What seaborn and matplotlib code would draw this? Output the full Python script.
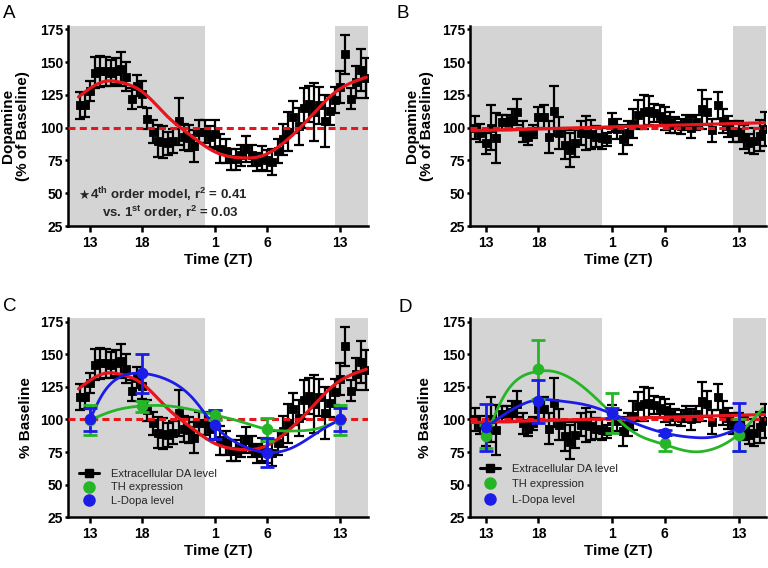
import numpy as np
import pandas as pd
import matplotlib
matplotlib.use("Agg")
import matplotlib.pyplot as plt
import seaborn as sns
from matplotlib.lines import Line2D

# ---------------- data ----------------
# time in hours after ZT13 of the first recording day (tick labels give ZT)
time_h = [-1.0, -0.5, 0.0, 0.5, 1.0, 1.5, 2.0, 2.5, 3.0, 3.5, 4.0, 4.5, 5.0, 5.5,
          6.0, 6.5, 7.0, 7.5, 8.0, 8.5, 9.0, 9.5, 10.0, 10.5, 11.0, 11.5, 12.0, 12.5,
          13.0, 13.5, 14.0, 14.5, 15.0, 15.5, 16.0, 16.5, 17.0, 17.5, 18.0, 18.5, 19.0,
          19.5, 20.0, 20.5, 21.0, 21.5, 22.0, 22.5, 23.0, 23.5, 24.0, 24.5, 25.0, 25.5,
          26.0, 26.5]

da_ctrl = [117, 117, 128, 142, 143, 143, 142, 143, 145, 139, 122, 132, 126, 107,
           97, 90, 89, 88, 90, 105, 93, 92, 86, 97, 97, 93, 95, 84,
           82, 76, 76, 79, 84, 79, 74, 77, 75, 74, 82, 91, 97,
           108, 101, 115, 118, 112, 117, 105, 113, 121, 131, 156, 122, 135,
           144, 138]
da_ctrl_err = [10, 9, 8, 12, 12, 11, 10, 10, 13, 11, 8, 8, 10, 8,
               9, 12, 12, 9, 9, 18, 10, 10, 12, 9, 9, 8, 11, 11,
               9, 8, 8, 8, 10, 8, 7, 9, 8, 10, 9, 12, 15,
               12, 14, 15, 14, 22, 14, 20, 11, 10, 12, 15, 8, 12,
               16, 15]

da_mut = [100, 96, 88, 100, 92, 104, 104, 106, 112, 97, 93, 97, 108, 108,
          93, 113, 96, 87, 83, 88, 96, 96, 95, 93, 92, 91, 104, 99,
          91, 96, 103, 110, 112, 113, 111, 109, 107, 104, 102, 101, 104,
          100, 104, 114, 112, 98, 117, 105, 101, 97, 97, 93, 88, 90,
          94, 99]
da_mut_err = [9, 7, 8, 17, 19, 6, 6, 8, 10, 8, 6, 5, 8, 9,
              12, 19, 12, 11, 13, 10, 9, 13, 11, 8, 8, 5, 7, 8,
              11, 9, 11, 11, 13, 11, 7, 8, 9, 8, 6, 6, 6,
              8, 6, 15, 10, 9, 10, 9, 8, 8, 8, 9, 7, 10,
              12, 13]

# 4th order model (panel A/C)
fit_ctrl_t = [-1.1, 0, 1.5, 3, 5, 7.5, 9.5, 12, 14.5, 16.5, 18.5, 21, 23.5, 26.5]
fit_ctrl_v = [123.5, 130, 135.5, 134.5, 127.5, 108, 95, 81.5, 77, 78.5, 88, 107, 127, 138.5]
# straight fit, panel B/D
fit_mut_t = [-1.3, 26.5]
fit_mut_v = [97.7, 103.8]

# TH expression and L-Dopa level sampled at ZT13, 18, 1, 6, 13
sample_t = [0, 5, 12, 17, 24]
th_ctrl = [99.5, 110, 103.5, 92.5, 99.5]
th_ctrl_err = [11.5, 4, 4, 9, 11.5]
ld_ctrl = [100, 135.5, 96, 74.5, 100]
ld_ctrl_err = [8.5, 15, 11, 11, 8.5]
th_mut = [87, 138.5, 105, 82, 88]
th_mut_err = [9, 22.5, 15, 6, 12]
ld_mut = [94, 114, 105, 90, 94]
ld_mut_err = [18, 16.5, 4, 2, 18.5]

# fitted curves for TH / L-Dopa
th_ctrl_curve_t = [0, 2, 5, 7.5, 12, 14.5, 17, 19.6, 21.5, 24]
th_ctrl_curve_v = [99.5, 106, 110.4, 110.4, 103.4, 98.3, 92.5, 91.2, 92.5, 99.5]
ld_ctrl_curve_t = [0, 1.06, 2.66, 4.9, 7.46, 10, 11.9, 14.5, 17.05, 19.6, 22.2, 24]
ld_ctrl_curve_v = [100, 117.5, 131.6, 135.4, 130.3, 115, 95.8, 80.4, 74.6, 79.1, 92, 100]
th_mut_curve_t = [0, 1.7, 4.85, 5.8, 9, 12.3, 14.2, 16.8, 19.6, 21.8, 23.9, 26.3]
th_mut_curve_v = [86, 117.5, 136.7, 137.4, 126.5, 102, 89.4, 81.2, 75.3, 78, 88, 108.6]
ld_mut_curve_t = [0, 1.7, 4.85, 7.1, 9.6, 11.8, 14.2, 16.8, 19.6, 21.8, 24.2]
ld_mut_curve_v = [94, 103.5, 115, 114.2, 111, 105, 97, 90, 86.3, 86.9, 94]

xtick_pos = [0, 5, 12, 17, 24]
xtick_labels = ["13", "18", "1", "6", "13"]
ytick_vals = [25, 50, 75, 100, 125, 150, 175]
dark_spans = [(None, 11.0), (23.5, None)]

# ---------------- style ----------------
sns.set_theme(style="ticks")
plt.rcParams["font.family"] = ["Liberation Sans", "DejaVu Sans"]
plt.rcParams["mathtext.fontset"] = "custom"
plt.rcParams["mathtext.bf"] = "Liberation Sans:bold"
plt.rcParams["mathtext.rm"] = "Liberation Sans"

RED = "#e8161c"
GREEN = "#26b526"
BLUE = "#1c1ce8"
GRAY = "#d4d4d4"


def natural_spline(x, y, n=300):
    x = np.asarray(x, float)
    y = np.asarray(y, float)
    nn = len(x)
    h = np.diff(x)
    A = np.zeros((nn, nn))
    b = np.zeros(nn)
    A[0, 0] = A[-1, -1] = 1
    for i in range(1, nn - 1):
        A[i, i - 1] = h[i - 1]
        A[i, i] = 2 * (h[i - 1] + h[i])
        A[i, i + 1] = h[i]
        b[i] = 6 * ((y[i + 1] - y[i]) / h[i] - (y[i] - y[i - 1]) / h[i - 1])
    M = np.linalg.solve(A, b)
    xs = np.linspace(x[0], x[-1], n)
    idx = np.clip(np.searchsorted(x, xs) - 1, 0, nn - 2)
    x0, x1 = x[idx], x[idx + 1]
    hh = x1 - x0
    a = (x1 - xs) / hh
    bb = (xs - x0) / hh
    ys = a * y[idx] + bb * y[idx + 1] + ((a ** 3 - a) * M[idx] + (bb ** 3 - bb) * M[idx + 1]) * hh ** 2 / 6
    return xs, ys


fig = plt.figure(figsize=(7.68, 5.68), dpi=100)
W, H = 768.0, 568.0
axA = fig.add_axes([68 / W, 1 - 226 / H, 300 / W, 200 / H])
axB = fig.add_axes([470 / W, 1 - 226 / H, 296 / W, 200 / H])
axC = fig.add_axes([68 / W, 1 - 517.3 / H, 300 / W, 199 / H])
axD = fig.add_axes([470 / W, 1 - 517.3 / H, 296 / W, 199 / H])

xl_left = (-2.11, 26.66)
xl_right = (-1.49, 26.6)


def base(ax, xlim, mean, err, fit_t, fit_v, fit_kind, ylabel, ylab_x):
    ax.set_xlim(*xlim)
    ax.set_ylim(25, 177.6)
    for a, b in dark_spans:
        ax.axvspan(xlim[0] if a is None else a, xlim[1] if b is None else b,
                   color=GRAY, lw=0, zorder=0)
    df = pd.DataFrame({"t": time_h, "v": mean, "e": err})
    ax.errorbar(df["t"], df["v"], yerr=df["e"], fmt="none", ecolor="black",
                elinewidth=1.6, capsize=3.4, capthick=1.6, zorder=2)
    sns.scatterplot(data=df, x="t", y="v", marker="s", s=40, color="black",
                    edgecolor="black", linewidth=0.6, ax=ax, zorder=3, legend=False)
    ax.axhline(100, color=RED, lw=2.2, ls=(0, (2.3, 1.4)), zorder=4)
    if fit_kind == "smooth":
        xs, ys = natural_spline(fit_t, fit_v)
    else:
        xs, ys = np.array(fit_t), np.array(fit_v)
    sns.lineplot(x=xs, y=ys, color=RED, lw=2.3, ax=ax, zorder=5, sort=False)
    ax.set_xticks(xtick_pos)
    ax.set_xticklabels(xtick_labels)
    ax.set_yticks(ytick_vals)
    for s in ["top", "right"]:
        ax.spines[s].set_visible(False)
    for s in ["left", "bottom"]:
        ax.spines[s].set_linewidth(1.8)
        ax.spines[s].set_color("black")
    ax.tick_params(axis="x", direction="out", length=4, width=1.8, pad=3,
                   labelsize=10, colors="black")
    ax.tick_params(axis="y", direction="out", length=2.5, width=1.8, pad=1,
                   labelsize=10, colors="black")
    for lab in ax.get_xticklabels() + ax.get_yticklabels():
        lab.set_fontweight("bold")
    ax.set_xlabel("Time (ZT)", fontsize=11, fontweight="bold", color="black")
    ax.xaxis.set_label_coords(0.5, -0.135)
    ax.set_ylabel(ylabel, fontsize=11, fontweight="bold", color="black",
                  linespacing=1.1)
    ax.yaxis.set_label_coords(ylab_x, 0.5)
    ax.grid(False)


def colored(ax, t, mean, err, ct, cv, color):
    df = pd.DataFrame({"t": t, "v": mean, "e": err})
    xs, ys = natural_spline(ct, cv)
    sns.lineplot(x=xs, y=ys, color=color, lw=2.0, ax=ax, zorder=6, sort=False)
    ax.errorbar(df["t"], df["v"], yerr=df["e"], fmt="none", ecolor=color,
                elinewidth=2.0, capsize=5, capthick=2.0, zorder=7)
    sns.scatterplot(data=df, x="t", y="v", marker="o", s=70, color=color,
                    edgecolor=color, linewidth=0, ax=ax, zorder=8, legend=False)


base(axA, xl_left, da_ctrl, da_ctrl_err, fit_ctrl_t, fit_ctrl_v, "smooth",
     "Dopamine\n(% of Baseline)", -0.125)
base(axB, xl_right, da_mut, da_mut_err, fit_mut_t, fit_mut_v, "line",
     "Dopamine\n(% of Baseline)", -0.122)
base(axC, xl_left, da_ctrl, da_ctrl_err, fit_ctrl_t, fit_ctrl_v, "smooth",
     "% Baseline", -0.115)
base(axD, xl_right, da_mut, da_mut_err, fit_mut_t, fit_mut_v, "line",
     "% Baseline", -0.13)

colored(axC, sample_t, th_ctrl, th_ctrl_err, th_ctrl_curve_t, th_ctrl_curve_v, GREEN)
colored(axC, sample_t, ld_ctrl, ld_ctrl_err, ld_ctrl_curve_t, ld_ctrl_curve_v, BLUE)
colored(axD, sample_t, th_mut, th_mut_err, th_mut_curve_t, th_mut_curve_v, GREEN)
colored(axD, sample_t, ld_mut, ld_mut_err, ld_mut_curve_t, ld_mut_curve_v, BLUE)

# annotation panel A
axA.text(0.035, 0.135, "\u2605", transform=axA.transAxes, fontsize=9,
         fontweight="bold", family=["DejaVu Sans"], va="baseline", ha="left", zorder=9)
axA.text(0.075, 0.135, r"4$^{\mathbf{th}}$ order model, r$^{\mathbf{2}}$ = 0.41",
         transform=axA.transAxes, fontsize=9.5, fontweight="bold", va="baseline",
         ha="left", zorder=9)
axA.text(0.113, 0.047, r"vs. 1$^{\mathbf{st}}$ order, r$^{\mathbf{2}}$ = 0.03",
         transform=axA.transAxes, fontsize=9.5, fontweight="bold", va="baseline",
         ha="left", zorder=9)

# legends
legend_labels = ["Extracellular DA level", "TH expression", "L-Dopa level"]
handles = [Line2D([], [], color="black", lw=2.2, marker="s", ms=6),
           Line2D([], [], ls="none", marker="o", color=GREEN, ms=8),
           Line2D([], [], ls="none", marker="o", color=BLUE, ms=8)]
axC.legend(handles, legend_labels, loc="upper left", bbox_to_anchor=(0.035, 0.245),
           frameon=False, fontsize=8, handlelength=1.8, handletextpad=1.1,
           labelspacing=0.35, borderpad=0, borderaxespad=0)
axD.legend(handles, legend_labels, loc="upper left", bbox_to_anchor=(0.033, 0.27),
           frameon=False, fontsize=8, handlelength=1.8, handletextpad=1.1,
           labelspacing=0.5, borderpad=0, borderaxespad=0)

# panel letters
for lab, x, y in [("A", 3, 18.3), ("B", 397, 18.3), ("C", 3, 311), ("D", 399, 312)]:
    fig.text(x / W, 1 - y / H, lab, fontsize=13.5, ha="left", va="baseline",
             color="black")

fig.savefig("out.png", dpi=100)
